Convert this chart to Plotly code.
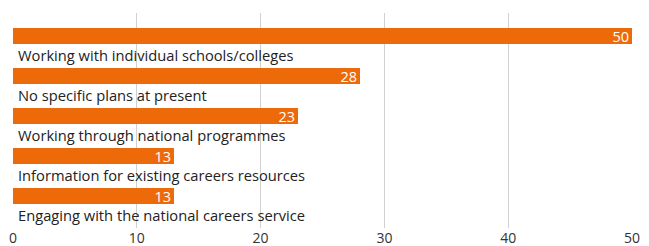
import plotly.graph_objects as go

categories = [
    "Working with individual schools/colleges",
    "No specific plans at present",
    "Working through national programmes",
    "Information for existing careers resources",
    "Engaging with the national careers service",
]
values = [50, 28, 23, 13, 13]
tick_vals = [0, 10, 20, 30, 40, 50]

positions = list(range(len(categories)))
bar_color = "#EC6A0A"
font_family = "Open Sans"

fig = go.Figure()
fig.add_trace(go.Bar(
    x=values,
    y=positions,
    orientation="h",
    width=0.4,
    marker=dict(color=bar_color, line=dict(width=0)),
    text=[str(v) for v in values],
    textposition="inside",
    insidetextanchor="end",
    textangle=0,
    constraintext="none",
    textfont=dict(color="white", size=14.5, family=font_family),
    hoverinfo="skip",
))

for i, cat in enumerate(categories):
    fig.add_annotation(
        x=0, y=i + 0.47, xref="x", yref="y",
        text=cat, showarrow=False,
        xanchor="left", yanchor="middle", xshift=3,
        font=dict(size=14.7, color="#222222", family=font_family),
    )

fig.update_layout(
    width=649, height=246,
    margin=dict(l=13, r=17, t=13, b=18, autoexpand=False),
    paper_bgcolor="white", plot_bgcolor="white",
    showlegend=False,
    bargap=0,
    font=dict(family=font_family),
)
fig.update_xaxes(
    range=[0, 50], tickvals=tick_vals,
    showgrid=True, gridcolor="#D0D0D0", gridwidth=1,
    zeroline=False, showline=False, ticks="",
    automargin=False,
    tickfont=dict(size=14, color="#333333", family=font_family),
)
fig.update_yaxes(
    range=[4.79, -0.583], showticklabels=False,
    showgrid=False, zeroline=False, showline=False,
    automargin=False,
)

fig.write_html(
    "out.html",
    config={"displayModeBar": False},
    post_script="document.body.style.margin='0';document.body.style.padding='0';",
)
